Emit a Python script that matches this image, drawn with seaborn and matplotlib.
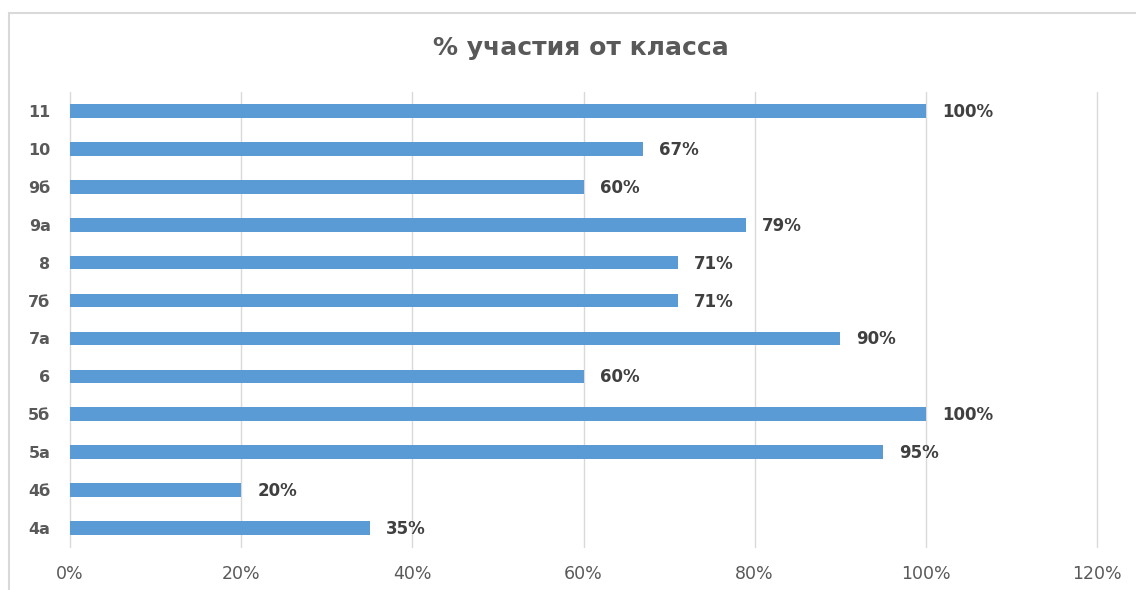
import seaborn as sns
import matplotlib.pyplot as plt
import pandas as pd
from matplotlib.patches import Rectangle
from matplotlib.ticker import PercentFormatter

# Данные: классы сверху вниз и процент участия
classes = ['11', '10', '9б', '9а', '8', '7б', '7а', '6', '5б', '5а', '4б', '4а']
participation = [100, 67, 60, 79, 71, 71, 90, 60, 100, 95, 20, 35]
x_ticks = [0, 20, 40, 60, 80, 100, 120]

df = pd.DataFrame({'class': classes, 'pct': participation})

sns.set_style('white')
plt.rcParams['font.family'] = ['DejaVu Sans']

fig = plt.figure(figsize=(11.36, 5.9), dpi=100)
ax = fig.add_axes([0.0616, 0.073, 0.9041, 0.771])

sns.barplot(data=df, x='pct', y='class', order=classes, orient='h',
            color='#5B9BD5', saturation=1, width=0.36, linewidth=0,
            ax=ax, zorder=3)

ax.set_xlim(0, 120)
ax.set_xticks(x_ticks)
ax.xaxis.set_major_formatter(PercentFormatter(decimals=0))
ax.grid(axis='x', color='#d9d9d9', linewidth=1, zorder=0)
ax.set_axisbelow(True)
for gl in ax.get_xgridlines():
    gl.set_clip_on(False)
for s in ax.spines.values():
    s.set_visible(False)
ax.set_xlabel('')
ax.set_ylabel('')
ax.tick_params(axis='x', length=0, labelsize=12.5, labelcolor='#595959', pad=13)
ax.tick_params(axis='y', length=0, labelsize=11.5, labelcolor='#595959', pad=14)
for lbl in ax.get_yticklabels():
    lbl.set_fontweight('bold')

# подписи значений
for bar, v in zip(ax.patches, participation):
    ax.annotate(f'{v}%', (bar.get_width(), bar.get_y() + bar.get_height() / 2),
                xytext=(16, -1), textcoords='offset pixels',
                va='center', ha='left', fontsize=12, fontweight='bold', color='#404040')

fig.text(0.511, 0.918, '% участия от класса', ha='center', va='center',
         fontsize=18, fontweight='bold', color='#595959')

# рамка диаграммы
fig.add_artist(Rectangle((9 / 1136, -0.01), 1.0, 1 - 13 / 590 + 0.01,
                         transform=fig.transFigure, fill=False,
                         edgecolor='#d9d9d9', linewidth=1.5))

plt.savefig('out.png', dpi=100)
plt.close()
